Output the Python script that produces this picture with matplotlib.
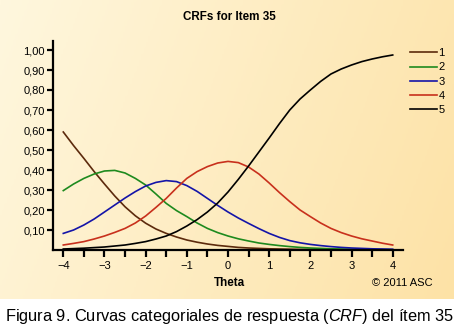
import numpy as np
import matplotlib
matplotlib.use('Agg')
import matplotlib.pyplot as plt
from matplotlib.colors import LinearSegmentedColormap

plt.rcParams['font.family'] = ['Liberation Sans', 'DejaVu Sans']
plt.rcParams['mathtext.fontset'] = 'custom'
plt.rcParams['mathtext.it'] = 'Liberation Sans:italic'
plt.rcParams['mathtext.rm'] = 'Liberation Sans'

# theta grid and category response curves
theta = [-4, -3.75, -3.5, -3.25, -3, -2.75, -2.5, -2.25, -2, -1.75, -1.5, -1.25, -1,
         -0.75, -0.5, -0.25, 0, 0.25, 0.5, 0.75, 1, 1.25, 1.5, 1.75, 2, 2.25, 2.5,
         2.75, 3, 3.25, 3.5, 3.75, 4]
cat1 = [0.59, 0.522, 0.458, 0.392, 0.33, 0.27, 0.216, 0.171, 0.134, 0.105, 0.083, 0.065, 0.05,
        0.039, 0.03, 0.023, 0.018, 0.013, 0.01, 0.008, 0.006, 0.005, 0.004, 0.003, 0.003, 0.002,
        0.002, 0.001, 0.001, 0.001, 0.001, 0.0, 0.0]
cat2 = [0.297, 0.33, 0.358, 0.38, 0.395, 0.398, 0.385, 0.358, 0.325, 0.28, 0.233, 0.197, 0.167,
        0.135, 0.108, 0.087, 0.07, 0.056, 0.045, 0.035, 0.028, 0.022, 0.017, 0.013, 0.01, 0.008,
        0.006, 0.005, 0.004, 0.003, 0.002, 0.002, 0.001]
cat3 = [0.083, 0.1, 0.125, 0.155, 0.19, 0.225, 0.26, 0.292, 0.32, 0.338, 0.347, 0.342, 0.322,
        0.293, 0.258, 0.223, 0.19, 0.16, 0.133, 0.107, 0.083, 0.063, 0.047, 0.036, 0.028, 0.022,
        0.017, 0.013, 0.01, 0.008, 0.006, 0.005, 0.004]
cat4 = [0.025, 0.033, 0.042, 0.055, 0.07, 0.088, 0.108, 0.135, 0.17, 0.213, 0.258, 0.31, 0.358,
        0.392, 0.417, 0.435, 0.443, 0.437, 0.415, 0.38, 0.335, 0.287, 0.242, 0.2, 0.167, 0.135,
        0.108, 0.087, 0.07, 0.056, 0.045, 0.034, 0.025]
cat5 = [0.005, 0.007, 0.009, 0.012, 0.015, 0.02, 0.025, 0.033, 0.042, 0.055, 0.07, 0.092, 0.12,
        0.152, 0.19, 0.235, 0.29, 0.353, 0.42, 0.49, 0.56, 0.632, 0.70, 0.755, 0.80, 0.843,
        0.88, 0.905, 0.925, 0.942, 0.955, 0.966, 0.975]

series = [cat1, cat2, cat3, cat4, cat5]
labels = ['1', '2', '3', '4', '5']
colors = ['#5c2a0c', '#1e8a1e', '#1414a8', '#c8301c', '#000000']

yticks = [0.1, 0.2, 0.3, 0.4, 0.5, 0.6, 0.7, 0.8, 0.9, 1.0]
xticks = [-4, -3, -2, -1, 0, 1, 2, 3, 4]

W, H = 461, 330
fig = plt.figure(figsize=(W / 100, H / 100), dpi=100)
fig.patch.set_facecolor('white')

# gradient panel behind the chart
bg = fig.add_axes([0, (H - 299) / H, 453 / W, 299 / H])
bg.axis('off')
cmap = LinearSegmentedColormap.from_list('bg', ['#fff7de', '#fde2a6'])
gx, gy = np.meshgrid(np.linspace(0, 1, 200), np.linspace(0, 1, 150))
bg.imshow(0.8 * gx + 0.2 * gy, cmap=cmap, aspect='auto', extent=[0, 1, 0, 1],
          vmin=0, vmax=1)
bg.set_xlim(0, 1)
bg.set_ylim(0, 1)

ax = fig.add_axes([53 / W, (H - 250) / H, 350 / W, 209 / H])
ax.patch.set_alpha(0)
for s, c, lab in zip(series, colors, labels):
    ax.plot(theta, s, color=c, lw=1.2, label=lab)

ax.set_xlim(-4.25, 4.25)
ax.set_ylim(0, 1.045)
ax.spines['top'].set_visible(False)
ax.spines['right'].set_visible(False)
ax.spines['left'].set_linewidth(1.6)
ax.spines['bottom'].set_linewidth(1.6)
ax.set_yticks(yticks)
ax.set_yticklabels([f'{v:.2f}'.replace('.', ',') for v in yticks])
ax.set_xticks(xticks)
ax.set_xticks(np.arange(-3.5, 4, 1), minor=True)
ax.tick_params(axis='both', which='both', direction='out', width=1.6, labelsize=8, pad=2)
ax.tick_params(axis='x', which='both', length=5, pad=3)
ax.tick_params(axis='y', length=4)

ax.legend(loc='upper left', bbox_to_anchor=(1.0, 1.0), frameon=False, fontsize=8,
          handlelength=2.4, handletextpad=0.15, labelspacing=0.38, borderaxespad=0.25)

fig.text(229 / W, 1 - 17 / H, 'CRFs for Item 35', ha='center', va='center',
         fontsize=8.4, fontweight='bold')
fig.text(229 / W, 1 - 283 / H, 'Theta', ha='center', va='center',
         fontsize=8.4, fontweight='bold')
fig.text(433 / W, 1 - 283 / H, '© 2011 ASC', ha='right', va='center', fontsize=8)

fig.text(230 / W, 1 - 316 / H,
         'Figura 9. Curvas categoriales de respuesta ($\\mathit{CRF}$) del ítem 35',
         ha='center', va='center', fontsize=11.8)

fig.savefig('out.png', dpi=100)
